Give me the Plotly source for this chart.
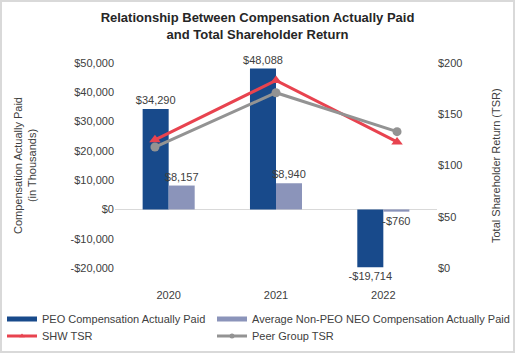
import plotly.graph_objects as go

years = ["2020", "2021", "2022"]
peo_cap = [34290, 48088, -19714]
neo_cap = [8157, 8940, -760]
shw_tsr = [125, 183, 123]
peer_tsr = [118, 171, 133]

left_tickvals = [-20000, -10000, 0, 10000, 20000, 30000, 40000, 50000]
left_ticktext = ["-$20,000", "-$10,000", "$0", "$10,000", "$20,000", "$30,000", "$40,000", "$50,000"]
right_tickvals = [0, 50, 100, 150, 200]
right_ticktext = ["$0", "$50", "$100", "$150", "$200"]

def money(v):
    return f"-${abs(v):,}" if v < 0 else f"${v:,}"

W, H = 515, 353
L, R, T, B = 115, 78, 63, 85
pw, ph = W - L - R, H - T - B

def px(xp):
    return (xp - L) / pw

def py(yp):
    return (T + ph - yp) / ph

FONT = "Liberation Sans, Arial, sans-serif"
TXT = "#404040"
C_PEO, C_NEO, C_SHW, C_PEER = "#184A8B", "#8B94BA", "#E8434F", "#939393"

fig = go.Figure()
fig.add_trace(go.Bar(
    x=years, y=peo_cap, name="PEO Compensation Actually Paid",
    marker=dict(color=C_PEO, line=dict(width=0)),
    text=[money(v) for v in peo_cap], textposition="outside",
    textfont=dict(size=11, color=TXT), cliponaxis=False, constraintext="none",
    showlegend=False, legendgroup="peo",
))
fig.add_trace(go.Bar(
    x=years, y=neo_cap, name="Average Non-PEO NEO Compensation Actually Paid",
    marker=dict(color=C_NEO, line=dict(width=0)),
    text=[money(v) for v in neo_cap], textposition="outside",
    textfont=dict(size=11, color=TXT), cliponaxis=False, constraintext="none",
    showlegend=False, legendgroup="neo",
))
fig.add_trace(go.Scatter(
    x=[0, 1, 2], y=shw_tsr, name="SHW TSR", xaxis="x2", yaxis="y2",
    mode="lines+markers",
    line=dict(color=C_SHW, width=3),
    marker=dict(symbol="triangle-up", size=10, color=C_SHW),
    cliponaxis=False, showlegend=False, legendgroup="shw",
))
fig.add_trace(go.Scatter(
    x=[0, 1, 2], y=peer_tsr, name="Peer Group TSR", xaxis="x2", yaxis="y2",
    mode="lines+markers",
    line=dict(color=C_PEER, width=3),
    marker=dict(symbol="circle", size=9, color=C_PEER),
    cliponaxis=False, showlegend=False, legendgroup="peer",
))

# legend-only entries (styled like the reference's legend keys)
def key(name, color, width, legend, group, marker=None):
    fig.add_trace(go.Scatter(
        x=[None], y=[None], name=name, legend=legend, legendgroup=group,
        mode="lines+markers" if marker else "lines",
        line=dict(color=color, width=width),
        marker=dict(symbol=marker or "circle", size=5, color=color),
        hoverinfo="skip",
    ))

key("PEO Compensation Actually Paid", C_PEO, 5, "legend", "peo")
key("Average Non-PEO NEO Compensation Actually Paid", C_NEO, 5, "legend2", "neo")
key("SHW TSR", C_SHW, 3, "legend3", "shw", "triangle-up")
key("Peer Group TSR", C_PEER, 3, "legend4", "peer", "circle")

def leg(xp, yp):
    return dict(
        orientation="v", x=px(xp), xanchor="left", y=py(yp), yanchor="middle",
        font=dict(size=11, color=TXT), bgcolor="rgba(0,0,0,0)",
        borderwidth=0, itemclick=False, itemdoubleclick=False,
    )

fig.update_layout(
    width=W, height=H,
    margin=dict(l=L, r=R, t=T, b=B, autoexpand=False),
    paper_bgcolor="white", plot_bgcolor="white",
    font=dict(family=FONT, size=11, color=TXT),
    barmode="group", bargap=0.515, bargroupgap=0,
    title=dict(
        text="<b>Relationship Between Compensation Actually Paid<br>and Total Shareholder Return</b>",
        x=0.5, xanchor="center", y=1 - 22 / H, yanchor="top",
        font=dict(size=13, color="#262626"),
    ),
    xaxis=dict(
        showgrid=False, showline=False, zeroline=False,
        ticks="outside", ticklen=17, tickcolor="rgba(0,0,0,0)",
        tickfont=dict(size=11, color=TXT),
    ),
    xaxis2=dict(overlaying="x", range=[-0.33, 2.33], visible=False),
    yaxis=dict(
        range=[-20000, 50000], tickvals=left_tickvals, ticktext=left_ticktext,
        showgrid=False, showline=False, zeroline=True,
        zerolinecolor="#d9d9d9", zerolinewidth=1,
        ticks="", tickfont=dict(size=11, color=TXT),
    ),
    yaxis2=dict(
        overlaying="y", side="right", range=[0, 200],
        tickvals=right_tickvals, ticktext=right_ticktext,
        showgrid=False, showline=False, zeroline=False,
        ticks="", tickfont=dict(size=11, color=TXT),
    ),
    legend=leg(2, 319),
    legend2=leg(212, 319),
    legend3=leg(2, 336),
    legend4=leg(212, 336),
    showlegend=True,
)

fig.add_annotation(
    text="Compensation Actually Paid<br>(in Thousands)", textangle=-90,
    xref="paper", yref="paper", x=px(25), y=py(166),
    xanchor="center", yanchor="middle", showarrow=False,
    font=dict(size=11, color=TXT),
)
fig.add_annotation(
    text="Total Shareholder Return (TSR)", textangle=-90,
    xref="paper", yref="paper", x=px(496), y=py(166),
    xanchor="center", yanchor="middle", showarrow=False,
    font=dict(size=11, color=TXT),
)
fig.add_shape(
    type="rect", xref="paper", yref="paper",
    x0=px(1), x1=px(W - 1), y0=py(H - 1), y1=py(1),
    line=dict(color="#d9d9d9", width=2), layer="below",
)

fig.write_html("out.html")
